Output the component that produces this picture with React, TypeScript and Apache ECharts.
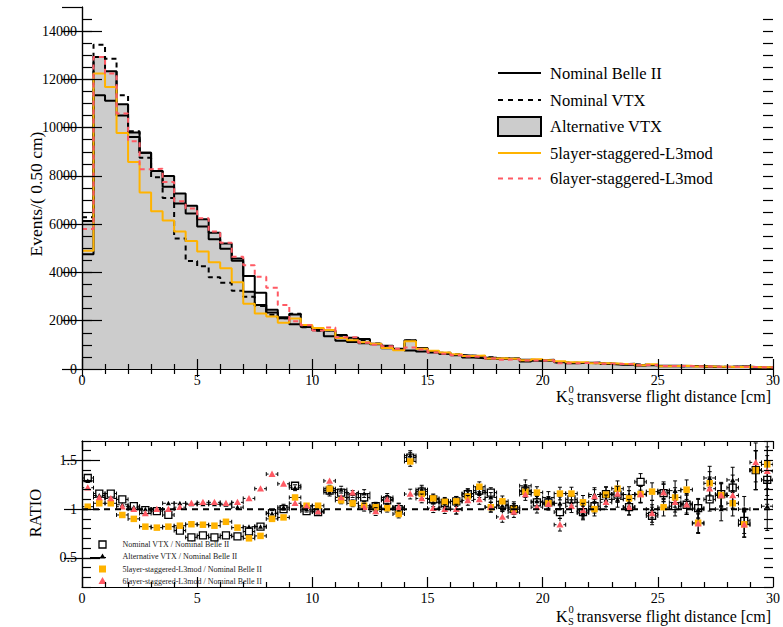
import React, { useEffect, useRef } from 'react';
import * as echarts from 'echarts';

const BIN_WIDTH = 0.5;
const N_BINS = 60;
const binLow = Array.from({ length: N_BINS }, (_, i) => i * BIN_WIDTH);

// Top panel: events per 0.5 cm bin
const nominalBelle = [4750, 11340, 11120, 10500, 9610, 8960, 8200, 7550, 6860, 6440, 5900, 5380, 4980, 4490, 3850, 3160, 2450, 2100, 1850, 1760, 1640, 1360, 1175, 1120, 1070, 1030, 860, 820, 770, 725, 680, 630, 570, 475, 450, 420, 415, 420, 310, 340, 345, 280, 235, 255, 235, 205, 180, 190, 140, 170, 110, 115, 115, 125, 80, 85, 80, 105, 52, 48];
const nominalVTX = [6290, 13440, 12860, 11340, 9850, 8750, 7950, 7090, 5410, 4470, 4260, 3800, 3570, 3240, 2990, 2610, 2250, 2100, 2290, 1725, 1590, 1600, 1375, 1255, 1200, 1060, 940, 820, 1180, 855, 750, 670, 615, 550, 535, 490, 435, 420, 370, 365, 370, 270, 260, 245, 240, 235, 205, 195, 180, 158, 128, 118, 120, 126, 88, 98, 98, 92, 73, 62];
const alternativeVTX = [6130, 12930, 12340, 10970, 9800, 8960, 8200, 8000, 7270, 6760, 6200, 5650, 5200, 4580, 3200, 2650, 2340, 2140, 2260, 1740, 1610, 1590, 1410, 1295, 1240, 1050, 960, 835, 1195, 870, 730, 645, 575, 550, 525, 470, 430, 430, 385, 365, 385, 295, 250, 245, 270, 225, 200, 220, 160, 170, 131, 137, 122, 125, 106, 85, 104, 105, 73, 50];
const layer5 = [4900, 12240, 11690, 9780, 8580, 7315, 6540, 6150, 5700, 5300, 4870, 4420, 4170, 3590, 2700, 2300, 2180, 1920, 2090, 1820, 1700, 1620, 1280, 1190, 1105, 1050, 870, 780, 1145, 840, 755, 680, 615, 535, 555, 430, 450, 420, 365, 400, 365, 325, 275, 275, 235, 235, 220, 210, 160, 200, 112, 129, 138, 108, 101, 97, 85, 89, 73, 70];
const layer6 = [5800, 12930, 12240, 10590, 9440, 8280, 8300, 7750, 6950, 6650, 6250, 5700, 5230, 4650, 4300, 3820, 3370, 2650, 1980, 1810, 1600, 1720, 1315, 1310, 1090, 1000, 945, 835, 890, 805, 685, 630, 570, 520, 495, 430, 380, 405, 355, 345, 360, 235, 240, 250, 265, 220, 210, 195, 160, 162, 129, 123, 120, 106, 97, 97, 91, 88, 77, 67];

// Ratio panel
const ratioVTX = [1.32, 1.16, 1.16, 1.10, 1.03, 0.99, 0.98, 0.94, 0.78, 0.71, 0.73, 0.71, 0.73, 0.72, 0.77, 0.82, 0.96, 1.0, 1.24, 0.98, 0.97, 1.19, 1.17, 1.12, 1.12, 1.03, 1.09, 1.0, 1.53, 1.18, 1.10, 1.065, 1.08, 1.155, 1.19, 1.17, 1.045, 1.0, 1.19, 1.07, 1.07, 0.97, 1.10, 0.97, 1.03, 1.155, 1.15, 1.02, 1.28, 0.93, 1.165, 1.03, 1.045, 1.01, 1.10, 1.155, 1.22, 0.88, 1.40, 1.30];
const ratioAlt = [1.29, 1.14, 1.11, 1.045, 1.02, 1.0, 1.0, 1.06, 1.06, 1.05, 1.05, 1.05, 1.045, 1.02, 0.82, 0.82, 0.955, 1.02, 1.22, 1.0, 0.98, 1.17, 1.2, 1.155, 1.16, 1.02, 1.12, 1.02, 1.55, 1.2, 1.07, 1.02, 1.0, 1.16, 1.17, 1.12, 1.035, 1.02, 1.24, 1.08, 1.12, 1.06, 1.07, 0.96, 1.15, 1.1, 1.1, 1.15, 1.15, 1.0, 1.19, 1.19, 1.06, 1.0, 1.32, 1.0, 1.3, 1.0, 1.40, 1.03];
const ratio5 = [1.025, 1.06, 1.06, 0.94, 0.90, 0.82, 0.81, 0.82, 0.83, 0.845, 0.84, 0.83, 0.87, 0.81, 0.70, 0.725, 0.90, 0.915, 1.12, 1.035, 1.035, 1.21, 1.09, 1.06, 1.035, 1.02, 1.01, 0.95, 1.49, 1.155, 1.11, 1.075, 1.08, 1.13, 1.23, 1.02, 1.08, 1.0, 1.18, 1.17, 1.06, 1.16, 1.16, 1.07, 1.0, 1.15, 1.21, 1.11, 1.155, 1.18, 1.02, 1.12, 1.2, 0.86, 1.265, 1.145, 1.06, 0.845, 1.40, 1.46];
const ratio6 = [1.22, 1.12, 1.11, 1.025, 1.0, 0.955, 1.0, 1.0, 1.02, 1.06, 1.07, 1.07, 1.06, 1.07, 1.11, 1.21, 1.36, 1.26, 1.06, 1.03, 0.975, 1.29, 1.12, 1.17, 1.02, 0.975, 1.10, 1.02, 1.155, 1.11, 1.01, 1.0, 1.0, 1.09, 1.10, 1.02, 0.92, 0.97, 1.15, 1.02, 1.05, 0.84, 1.03, 0.99, 1.13, 1.07, 1.155, 1.02, 1.15, 0.955, 1.17, 1.07, 1.045, 0.85, 1.21, 1.14, 1.14, 0.84, 1.48, 1.39];
const ratioErr = [0.02, 0.015, 0.015, 0.015, 0.015, 0.015, 0.015, 0.015, 0.02, 0.02, 0.02, 0.02, 0.02, 0.02, 0.025, 0.025, 0.03, 0.03, 0.03, 0.03, 0.03, 0.035, 0.035, 0.035, 0.04, 0.04, 0.04, 0.04, 0.05, 0.045, 0.045, 0.045, 0.05, 0.05, 0.05, 0.05, 0.055, 0.055, 0.06, 0.06, 0.06, 0.065, 0.065, 0.07, 0.07, 0.075, 0.08, 0.08, 0.085, 0.09, 0.09, 0.1, 0.1, 0.1, 0.12, 0.12, 0.13, 0.13, 0.2, 0.25];
const ratioRefX = [0, 30];
const ratioRefY = 1;

// Tick values
const topYMinorTicks = [500, 1000, 1500, 2000, 2500, 3000, 3500, 4000, 4500, 5000, 5500, 6000, 6500, 7000, 7500, 8000, 8500, 9000, 9500, 10000, 10500, 11000, 11500, 12000, 12500, 13000, 13500, 14000, 14500];
const ratioYMajorTicks = [0.5, 1, 1.5];
const ratioYMinorTicks = [0.2, 0.3, 0.4, 0.5, 0.6, 0.7, 0.8, 0.9, 1.0, 1.1, 1.2, 1.3, 1.4, 1.5, 1.6, 1.7];

const legendTop = ['Nominal Belle II', 'Nominal VTX', 'Alternative VTX', '5layer-staggered-L3mod', '6layer-staggered-L3mod'];
const legendBottom = ['Nominal VTX / Nominal Belle II', 'Alternative VTX / Nominal Belle II', '5layer-staggered-L3mod / Nominal Belle II', '6layer-staggered-L3mod / Nominal Belle II'];

const FONT = 'Liberation Serif';
const ORANGE = '#ffb300';
const RED = '#ff5a64';
const GREY = '#cccccc';

function histData(vals: number[]) {
  const d = binLow.map((x, i) => [x, vals[i]]);
  d.push([binLow[N_BINS - 1] + BIN_WIDTH, vals[N_BINS - 1]]);
  return d;
}

function ratioData(vals: number[]) {
  return binLow.map((x, i) => [x + BIN_WIDTH / 2, vals[i], ratioErr[i]]);
}

function makeRenderItem(kind: string, color: string, size: number) {
  return (_params: any, api: any) => {
    const x = api.value(0);
    const y = api.value(1);
    const e = api.value(2);
    const c = api.coord([x, y]);
    const l = api.coord([x - BIN_WIDTH / 2, y]);
    const r = api.coord([x + BIN_WIDTH / 2, y]);
    const t = api.coord([x, y + e]);
    const b = api.coord([x, y - e]);
    const h = size / 2;
    const ls = { stroke: '#000', lineWidth: 1 };
    const children: any[] = [];
    const seg = (x1: number, y1: number, x2: number, y2: number) =>
      children.push({ type: 'line', shape: { x1, y1, x2, y2 }, style: ls });
    seg(l[0], c[1], c[0] - h, c[1]);
    seg(c[0] + h, c[1], r[0], c[1]);
    seg(l[0], c[1] - 2, l[0], c[1] + 2);
    seg(r[0], c[1] - 2, r[0], c[1] + 2);
    if (t[1] < c[1] - h) {
      seg(c[0], t[1], c[0], c[1] - h);
      seg(c[0] - 2, t[1], c[0] + 2, t[1]);
    }
    if (b[1] > c[1] + h) {
      seg(c[0], c[1] + h, c[0], b[1]);
      seg(c[0] - 2, b[1], c[0] + 2, b[1]);
    }
    if (kind === 'openSquare') {
      children.push({ type: 'rect', shape: { x: c[0] - h, y: c[1] - h, width: size, height: size }, style: { fill: 'rgba(0,0,0,0)', stroke: '#000', lineWidth: 1.3 } });
    } else if (kind === 'square') {
      children.push({ type: 'rect', shape: { x: c[0] - h, y: c[1] - h, width: size, height: size }, style: { fill: color } });
    } else {
      children.push({ type: 'polygon', shape: { points: [[c[0], c[1] - h], [c[0] - h, c[1] + h * 0.8], [c[0] + h, c[1] + h * 0.8]] }, style: { fill: color } });
    }
    return { type: 'group', children };
  };
}

function txt(text: string, x: number, y: number, size: number, align = 'left', extra: any = {}, color = '#000') {
  return {
    type: 'text',
    x,
    y,
    ...extra,
    style: {
      text,
      fill: color,
      fontSize: size,
      fontFamily: FONT,
      textAlign: align,
      align,
      textVerticalAlign: 'middle',
      verticalAlign: 'middle',
    },
  };
}

function xTitle(y: number) {
  return [
    txt('K', 556, y, 16),
    txt('S', 568, y + 5, 10.5),
    txt('0', 568.5, y - 7, 10.5),
    txt('transverse flight distance [cm]', 771, y, 16, 'right'),
  ];
}

const labelStyle = { fontFamily: FONT, fontSize: 14, color: '#000' };
const axisLineStyle = { show: true, lineStyle: { color: '#000', width: 1.2 } };

function xAxes(gridIndex: number, showLabels: boolean) {
  const base = {
    type: 'value',
    gridIndex,
    min: 0,
    max: 30,
    interval: 5,
    z: 10,
    splitLine: { show: false },
    axisLine: axisLineStyle,
  };
  return [
    {
      ...base,
      position: 'bottom',
      axisTick: { show: true, inside: true, length: 10, lineStyle: { color: '#000', width: 1.2 } },
      minorTick: { show: true, splitNumber: 5, length: 5, lineStyle: { color: '#000', width: 1.2 } },
      axisLabel: { show: showLabels, margin: 4, ...labelStyle },
    },
    {
      ...base,
      position: 'top',
      axisTick: { show: true, inside: true, length: 8, lineStyle: { color: '#000', width: 1.2 } },
      minorTick: { show: true, splitNumber: 5, length: 5, lineStyle: { color: '#000', width: 1.2 } },
      axisLabel: { show: false },
    },
  ];
}

function tickAxis(gridIndex: number, min: number, max: number, position: string, values: number[], length: number, showLine: boolean, labels: boolean) {
  return {
    type: 'value',
    gridIndex,
    min,
    max,
    position,
    z: 10,
    splitLine: { show: false },
    axisLine: showLine ? axisLineStyle : { show: false },
    axisTick: { show: true, inside: true, length, customValues: values, lineStyle: { color: '#000', width: 1.2 } },
    axisLabel: labels
      ? { show: true, margin: 5, customValues: values, formatter: (v: number) => String(v), ...labelStyle }
      : { show: false, customValues: values },
  };
}

export default function App() {
  const ref = useRef<HTMLDivElement>(null);
  useEffect(() => {
    if (!ref.current) return;
    const chart = echarts.init(ref.current, undefined, { renderer: 'svg' });

    const topYMajor = {
      type: 'value',
      gridIndex: 0,
      min: 0,
      max: 15000,
      interval: 2000,
      position: 'left',
      z: 10,
      splitLine: { show: false },
      axisLine: axisLineStyle,
      axisTick: { show: true, inside: true, length: 20, lineStyle: { color: '#000', width: 1.2 } },
      axisLabel: { show: true, margin: 5, showMaxLabel: false, formatter: (v: number) => (v > 14000 ? '' : String(v)), ...labelStyle },
    };
    const topYMajorRight = {
      ...topYMajor,
      position: 'right',
      axisLabel: { show: false },
    };

    const lineBase = {
      type: 'line',
      step: 'end',
      symbol: 'none',
      showSymbol: false,
      silent: true,
      xAxisIndex: 0,
      yAxisIndex: 0,
      clip: true,
    };

    const ratioBase = {
      type: 'custom',
      xAxisIndex: 2,
      yAxisIndex: 4,
      clip: true,
      silent: true,
      encode: { x: 0, y: 1 },
    };

    const legendRowsY = [73, 100, 126.5, 153, 178.5];
    const bottomRowsY = [544.5, 556.5, 569, 581];

    const graphic: any[] = [
      // top legend
      { type: 'line', shape: { x1: 498, y1: legendRowsY[0], x2: 541, y2: legendRowsY[0] }, style: { stroke: '#000', lineWidth: 2 } },
      { type: 'line', shape: { x1: 498, y1: legendRowsY[1], x2: 541, y2: legendRowsY[1] }, style: { stroke: '#000', lineWidth: 2, lineDash: [5, 5] } },
      { type: 'rect', shape: { x: 498, y: 117, width: 43, height: 19 }, style: { fill: GREY, stroke: '#000', lineWidth: 2 } },
      { type: 'line', shape: { x1: 498, y1: legendRowsY[3], x2: 541, y2: legendRowsY[3] }, style: { stroke: ORANGE, lineWidth: 2 } },
      { type: 'line', shape: { x1: 498, y1: legendRowsY[4], x2: 541, y2: legendRowsY[4] }, style: { stroke: RED, lineWidth: 2, lineDash: [5, 5] } },
      ...legendTop.map((s, i) => txt(s, 550, legendRowsY[i], 16.5)),
      // bottom legend markers
      { type: 'rect', shape: { x: 99, y: bottomRowsY[0] - 3.5, width: 7, height: 7 }, style: { fill: 'rgba(0,0,0,0)', stroke: '#000', lineWidth: 1.3 } },
      { type: 'line', shape: { x1: 90, y1: bottomRowsY[1] + 1, x2: 106, y2: bottomRowsY[1] + 1 }, style: { stroke: '#000', lineWidth: 1 } },
      { type: 'polygon', shape: { points: [[102.5, bottomRowsY[1] - 3], [99.5, bottomRowsY[1] + 2], [105.5, bottomRowsY[1] + 2]] }, style: { fill: '#000' } },
      { type: 'rect', shape: { x: 99, y: bottomRowsY[2] - 3.5, width: 7, height: 7 }, style: { fill: ORANGE } },
      { type: 'polygon', shape: { points: [[102.5, bottomRowsY[3] - 4], [98.5, bottomRowsY[3] + 3], [106.5, bottomRowsY[3] + 3]] }, style: { fill: RED } },
      ...legendBottom.map((s, i) => txt(s, 122.5, bottomRowsY[i], 8, 'left', {}, '#222')),
      // axis titles
      ...xTitle(396),
      ...xTitle(616),
      txt('Events/( 0.50 cm)', 36, 194, 17.5, 'center', { rotation: Math.PI / 2 }),
      txt('RATIO', 35, 513, 16.5, 'center', { rotation: Math.PI / 2 }),
    ];

    const option: any = {
      animation: false,
      backgroundColor: '#ffffff',
      textStyle: { fontFamily: FONT },
      grid: [
        { left: 82, top: 7, width: 692.5, height: 362, containLabel: false },
        { left: 82, top: 441, width: 692.5, height: 146, containLabel: false },
      ],
      xAxis: [...xAxes(0, true), ...xAxes(1, true)],
      yAxis: [
        topYMajor,
        topYMajorRight,
        tickAxis(0, 0, 15000, 'left', topYMinorTicks, 10, false, false),
        tickAxis(0, 0, 15000, 'right', topYMinorTicks, 10, false, false),
        tickAxis(1, 0.2, 1.7, 'left', ratioYMajorTicks, 18, true, true),
        tickAxis(1, 0.2, 1.7, 'right', ratioYMajorTicks, 18, true, false),
        tickAxis(1, 0.2, 1.7, 'left', ratioYMinorTicks, 9, false, false),
        tickAxis(1, 0.2, 1.7, 'right', ratioYMinorTicks, 9, false, false),
      ],
      series: [
        { ...lineBase, name: legendTop[0], data: histData(nominalBelle), lineStyle: { color: '#000', width: 2 } },
        { ...lineBase, name: legendTop[2], data: histData(alternativeVTX), lineStyle: { color: '#000', width: 2 }, areaStyle: { color: GREY, opacity: 1 } },
        { ...lineBase, name: legendTop[1], data: histData(nominalVTX), lineStyle: { color: '#000', width: 2, type: [5, 4] } },
        { ...lineBase, name: legendTop[3], data: histData(layer5), lineStyle: { color: ORANGE, width: 2 } },
        { ...lineBase, name: legendTop[4], data: histData(layer6), lineStyle: { color: RED, width: 2, type: [5, 4] } },
        {
          type: 'line',
          xAxisIndex: 2,
          yAxisIndex: 4,
          symbol: 'none',
          silent: true,
          data: ratioRefX.map((x) => [x, ratioRefY]),
          lineStyle: { color: '#000', width: 2, type: [6, 5] },
        },
        { ...ratioBase, name: legendBottom[0], data: ratioData(ratioVTX), renderItem: makeRenderItem('openSquare', '#000', 7) },
        { ...ratioBase, name: legendBottom[1], data: ratioData(ratioAlt), renderItem: makeRenderItem('triangle', '#000', 5) },
        { ...ratioBase, name: legendBottom[2], data: ratioData(ratio5), renderItem: makeRenderItem('square', ORANGE, 6.5) },
        { ...ratioBase, name: legendBottom[3], data: ratioData(ratio6), renderItem: makeRenderItem('triangle', RED, 7) },
      ],
      graphic,
    };
    chart.setOption(option);
    return () => chart.dispose();
  }, []);
  return (
    <div
      ref={ref}
      style={{ position: 'fixed', left: 0, top: 0, width: 783, height: 627, background: '#fff' }}
    />
  );
}
